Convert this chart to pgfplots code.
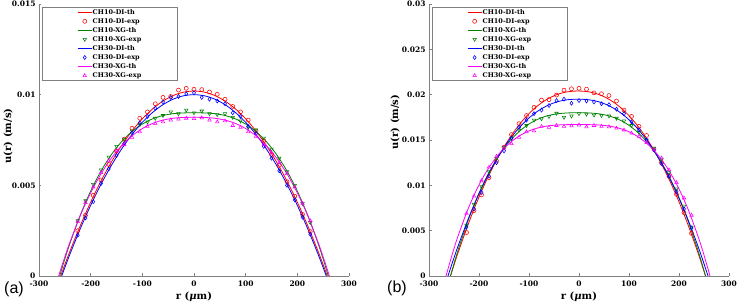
\documentclass[border=0pt]{standalone}
\usepackage{pgfplots}
\pgfplotsset{compat=1.18}
\usepackage{fontspec}
\setmainfont{Liberation Serif}
\newfontfamily\dvs{DejaVu Serif}
\newfontfamily\lsans{Liberation Sans}
\definecolor{colR}{rgb}{1,0,0}
\definecolor{colG}{rgb}{0,0.5,0}
\definecolor{colB}{rgb}{0,0,1}
\definecolor{colM}{rgb}{1,0,1}
\definecolor{axgray}{rgb}{0.5,0.5,0.5}
\pgfplotsset{
  myax/.style={
    scale only axis, height=272pt,
    axis lines*=left,
    axis line style={axgray, line width=0.6pt},
    every tick/.style={axgray, line width=0.5pt},
    major tick length=2.5pt,
    tick align=inside,
    xmin=-300, xmax=300, ymin=0,
    xtick={-300,-200,-100,0,100,200,300},
    xticklabels={-300,-200,-100,0,100,200,300},
    scaled y ticks=false,
    tick label style={font=\dvs\bfseries\fontsize{7.5}{8}\selectfont, black},
    xticklabel style={yshift=-1.5pt},
    label style={font=\dvs\bfseries\fontsize{10}{11}\selectfont},
    xlabel={r (\textit{μ}m)},
    xlabel style={at={(axis description cs:0.5,0)}, anchor=center, yshift=-20.7pt},
    legend style={at={(axis description cs:0.01,0.989)}, anchor=north west,
      draw=axgray, line width=0.5pt, inner xsep=35pt, inner ysep=0.5pt,
      font=\dvs\bfseries\fontsize{6.5}{8}\selectfont, row sep=0pt,
      nodes={inner sep=0.6pt, text height=5.9pt, text depth=1.95pt}},
    legend cell align=left,
    legend image code/.code={\draw[mark repeat=2,mark phase=2,#1] plot coordinates {(0pt,0pt) (7pt,0pt) (14pt,0pt)};},
  },
  th/.style={line width=0.8pt, smooth, no markers},
  ex/.style={only marks, line width=0.55pt, mark size=2pt},
}
\begin{document}
\begin{tikzpicture}[x=1pt,y=1pt]
\path[use as bounding box] (0,0) rectangle (737,302);
% ---------------- (a) ----------------
\begin{axis}[myax, width=310pt, at={(39pt,26pt)}, anchor=south west,
  ymax=0.015, ytick={0,0.005,0.01,0.015}, yticklabels={0,0.005,0.01,0.015},
  ylabel={u(r) (m/s)},
  ylabel style={at={(axis description cs:-0.1,0.515)}, anchor=center}]
\addplot[th, colR] coordinates {(-266,-0.00064) (-258,0) (-250,0.000623) (-240,0.001374) (-220,0.002783) (-200,0.004071) (-180,0.005235) (-160,0.006277) (-140,0.007197) (-120,0.007993) (-100,0.008668) (-80,0.009219) (-60,0.009648) (-40,0.009955) (-20,0.010139) (0,0.0102) (20,0.010139) (40,0.009955) (60,0.009648) (80,0.009219) (100,0.008668) (120,0.007993) (140,0.007197) (160,0.006277) (180,0.005235) (200,0.004071) (220,0.002783) (240,0.001374) (250,0.000623) (258,0) (266,-0.00064)};
\addlegendentry{CH10-DI-th}
\addplot[ex, colR, mark=o] coordinates {(-225,0.00250) (-210,0.00335) (-195,0.00445) (-180,0.00530) (-165,0.00615) (-150,0.00690) (-135,0.00755) (-120,0.00815) (-105,0.00870) (-90,0.00905) (-75,0.00950) (-60,0.00985) (-45,0.00990) (-30,0.01025) (-15,0.01035) (0,0.01030) (15,0.01028) (30,0.01015) (45,0.01002) (60,0.00975) (75,0.00935) (90,0.00905) (105,0.00860) (120,0.00800) (135,0.00745) (150,0.00670) (165,0.00610) (180,0.00520) (195,0.00440) (210,0.00340) (225,0.00245)};
\addlegendentry{CH10-DI-exp}
\addplot[th, colG] coordinates {(-268,-0.0008) (-260,0) (-250,0.000936) (-240,0.001806) (-220,0.003363) (-200,0.004683) (-180,0.005786) (-160,0.006689) (-140,0.007410) (-120,0.007967) (-100,0.008380) (-80,0.008668) (-60,0.008852) (-40,0.008952) (-20,0.008993) (0,0.0090) (20,0.008993) (40,0.008952) (60,0.008852) (80,0.008668) (100,0.008380) (120,0.007967) (140,0.007410) (160,0.006689) (180,0.005786) (200,0.004683) (220,0.003363) (240,0.001806) (250,0.000936) (260,0) (268,-0.0008)};
\addlegendentry{CH10-XG-th}
\addplot[ex, colG, mark=triangle, mark options={rotate=180}] coordinates {(-225,0.00305) (-210,0.00415) (-195,0.00505) (-180,0.00585) (-165,0.00655) (-150,0.00715) (-135,0.00755) (-120,0.00800) (-105,0.00835) (-90,0.00850) (-75,0.00870) (-60,0.00885) (-45,0.00905) (-30,0.00895) (-15,0.00915) (0,0.00900) (15,0.00910) (30,0.00895) (45,0.00890) (60,0.00895) (75,0.00875) (90,0.00855) (105,0.00820) (120,0.00805) (135,0.00760) (150,0.00700) (165,0.00650) (180,0.00575) (195,0.00500) (210,0.00400) (225,0.00295)};
\addlegendentry{CH10-XG-exp}
\addplot[th, colB] coordinates {(-264,-0.000635) (-256,0) (-250,0.000463) (-240,0.001211) (-220,0.002615) (-200,0.003896) (-180,0.005056) (-160,0.006094) (-140,0.007009) (-120,0.007803) (-100,0.008474) (-80,0.009023) (-60,0.009451) (-40,0.009756) (-20,0.009939) (0,0.0100) (20,0.009939) (40,0.009756) (60,0.009451) (80,0.009023) (100,0.008474) (120,0.007803) (140,0.007009) (160,0.006094) (180,0.005056) (200,0.003896) (220,0.002615) (240,0.001211) (250,0.000463) (256,0) (264,-0.000635)};
\addlegendentry{CH30-DI-th}
\addplot[ex, colB, mark=diamond] coordinates {(-225,0.00225) (-210,0.00320) (-195,0.00410) (-180,0.00510) (-165,0.00590) (-150,0.00665) (-135,0.00730) (-120,0.00790) (-105,0.00845) (-90,0.00880) (-75,0.00925) (-60,0.00960) (-45,0.00985) (-30,0.00990) (-15,0.01005) (0,0.01010) (15,0.00985) (30,0.00975) (45,0.00965) (60,0.00950) (75,0.00900) (90,0.00880) (105,0.00825) (120,0.00785) (135,0.00715) (150,0.00650) (165,0.00580) (180,0.00500) (195,0.00420) (210,0.00325) (225,0.00230)};
\addlegendentry{CH30-DI-exp}
\addplot[th, colM] coordinates {(-270,-0.00075) (-262,0) (-250,0.001058) (-240,0.001875) (-220,0.003338) (-200,0.004587) (-180,0.005633) (-160,0.006496) (-140,0.007188) (-120,0.007728) (-100,0.008131) (-80,0.008415) (-60,0.008598) (-40,0.008700) (-20,0.008743) (0,0.00875) (20,0.008743) (40,0.008700) (60,0.008598) (80,0.008415) (100,0.008131) (120,0.007728) (140,0.007188) (160,0.006496) (180,0.005633) (200,0.004587) (220,0.003338) (240,0.001875) (250,0.001058) (262,0) (270,-0.00075)};
\addlegendentry{CH30-XG-th}
\addplot[ex, colM, mark=triangle] coordinates {(-225,0.00300) (-210,0.00405) (-195,0.00490) (-180,0.00570) (-165,0.00635) (-150,0.00690) (-135,0.00725) (-120,0.00765) (-105,0.00795) (-90,0.00825) (-75,0.00840) (-60,0.00850) (-45,0.00860) (-30,0.00865) (-15,0.00870) (0,0.00868) (15,0.00872) (30,0.00860) (45,0.00850) (60,0.00855) (75,0.00830) (90,0.00820) (105,0.00795) (120,0.00770) (135,0.00725) (150,0.00680) (165,0.00625) (180,0.00565) (195,0.00490) (210,0.00400) (225,0.00305)};
\addlegendentry{CH30-XG-exp}
\end{axis}
% ---------------- (b) ----------------
\begin{axis}[myax, width=300pt, at={(429pt,26pt)}, anchor=south west,
  ymax=0.03, ytick={0,0.005,0.01,0.015,0.02,0.025,0.03}, yticklabels={0,0.005,0.01,0.015,0.02,0.025,0.03},
  ylabel={u(r) (m/s)},
  ylabel style={at={(axis description cs:-0.113,0.566)}, anchor=center}]
\addplot[th, colR] coordinates {(-265,-0.00143) (-257,0) (-252,0.000869) (-242,0.002546) (-222,0.005655) (-202,0.008446) (-182,0.010920) (-162,0.013082) (-142,0.014945) (-122,0.016516) (-102,0.017799) (-82,0.018809) (-62,0.019553) (-42,0.020053) (-22,0.020325) (-2,0.0204) (18,0.020325) (38,0.020053) (58,0.019553) (78,0.018809) (98,0.017799) (118,0.016516) (138,0.014945) (158,0.013082) (178,0.010920) (198,0.008446) (218,0.005655) (238,0.002546) (248,0.000869) (253,0) (261,-0.00143)};
\addlegendentry{CH10-DI-th}
\addplot[ex, colR, mark=o] coordinates {(-225,0.00480) (-210,0.00720) (-195,0.00895) (-180,0.01085) (-165,0.01270) (-150,0.01420) (-135,0.01560) (-120,0.01680) (-105,0.01770) (-90,0.01860) (-75,0.01940) (-60,0.01945) (-45,0.01995) (-30,0.02050) (-15,0.02065) (0,0.02070) (15,0.02060) (30,0.02020) (45,0.02010) (60,0.01990) (75,0.01930) (90,0.01830) (105,0.01760) (120,0.01650) (135,0.01550) (150,0.01400) (165,0.01250) (180,0.01100) (195,0.00900) (210,0.00700) (225,0.00470)};
\addlegendentry{CH10-DI-exp}
\addplot[th, colG] coordinates {(-265,-0.00163) (-257,0) (-252,0.000970) (-242,0.002810) (-222,0.006093) (-202,0.008881) (-182,0.011212) (-162,0.013118) (-142,0.014641) (-122,0.015818) (-102,0.016691) (-82,0.017299) (-62,0.017687) (-42,0.017899) (-22,0.017986) (-2,0.0180) (18,0.017986) (38,0.017899) (58,0.017687) (78,0.017299) (98,0.016691) (118,0.015818) (138,0.014641) (158,0.013118) (178,0.011212) (198,0.008881) (218,0.006093) (238,0.002810) (248,0.000970) (253,0) (261,-0.00163)};
\addlegendentry{CH10-XG-th}
\addplot[ex, colG, mark=triangle, mark options={rotate=180}] coordinates {(-225,0.00560) (-210,0.00790) (-195,0.00985) (-180,0.01150) (-165,0.01300) (-150,0.01420) (-135,0.01520) (-120,0.01610) (-105,0.01660) (-90,0.01720) (-75,0.01735) (-60,0.01760) (-45,0.01795) (-30,0.01750) (-15,0.01765) (0,0.01790) (15,0.01785) (30,0.01775) (45,0.01770) (60,0.01765) (75,0.01740) (90,0.01710) (105,0.01660) (120,0.01585) (135,0.01500) (150,0.01410) (165,0.01290) (180,0.01140) (195,0.00960) (210,0.00770) (225,0.00540)};
\addlegendentry{CH10-XG-exp}
\addplot[th, colB] coordinates {(-270,-0.00141) (-262,0) (-252,0.001681) (-242,0.003278) (-222,0.006220) (-202,0.008835) (-182,0.011130) (-162,0.013116) (-142,0.014805) (-122,0.016207) (-102,0.017334) (-82,0.018203) (-62,0.018831) (-42,0.019237) (-22,0.019447) (-2,0.0195) (18,0.019447) (38,0.019237) (58,0.018831) (78,0.018203) (98,0.017334) (118,0.016207) (138,0.014805) (158,0.013116) (178,0.011130) (198,0.008835) (218,0.006220) (238,0.003278) (248,0.001681) (258,0) (266,-0.00141)};
\addlegendentry{CH30-DI-th}
\addplot[ex, colB, mark=diamond] coordinates {(-225,0.00540) (-210,0.00740) (-195,0.00920) (-180,0.01100) (-165,0.01250) (-150,0.01380) (-135,0.01520) (-120,0.01640) (-105,0.01720) (-90,0.01790) (-75,0.01830) (-60,0.01880) (-45,0.01935) (-30,0.01950) (-15,0.01905) (0,0.01935) (15,0.01930) (30,0.01920) (45,0.01900) (60,0.01890) (75,0.01840) (90,0.01790) (105,0.01700) (120,0.01610) (135,0.01500) (150,0.01390) (165,0.01240) (180,0.01100) (195,0.00930) (210,0.00740) (225,0.00530)};
\addlegendentry{CH30-DI-exp}
\addplot[th, colM] coordinates {(-274,-0.00167) (-266,0) (-252,0.002672) (-242,0.004390) (-222,0.007381) (-202,0.009831) (-182,0.011797) (-162,0.013337) (-142,0.014507) (-122,0.015360) (-102,0.015953) (-82,0.016334) (-62,0.016554) (-42,0.016660) (-22,0.016696) (-2,0.0167) (18,0.016696) (38,0.016660) (58,0.016554) (78,0.016334) (98,0.015953) (118,0.015360) (138,0.014507) (158,0.013337) (178,0.011797) (198,0.009831) (218,0.007381) (238,0.004390) (248,0.002672) (262,0) (270,-0.00167)};
\addlegendentry{CH30-XG-th}
\addplot[ex, colM, mark=triangle] coordinates {(-225,0.00690) (-210,0.00880) (-195,0.01050) (-180,0.01200) (-165,0.01320) (-150,0.01410) (-135,0.01460) (-120,0.01530) (-105,0.01590) (-90,0.01600) (-75,0.01650) (-60,0.01640) (-45,0.01660) (-30,0.01650) (-15,0.01655) (0,0.01665) (15,0.01645) (30,0.01660) (45,0.01650) (60,0.01645) (75,0.01630) (90,0.01610) (105,0.01575) (120,0.01540) (135,0.01470) (150,0.01390) (165,0.01300) (180,0.01170) (195,0.01030) (210,0.00860) (225,0.00670)};
\addlegendentry{CH30-XG-exp}
\end{axis}
\node[font=\lsans\fontsize{16}{18}\selectfont, anchor=center] at (14,13) {(a)};
\node[font=\lsans\fontsize{16}{18}\selectfont, anchor=center] at (397,14) {(b)};
\end{tikzpicture}
\end{document}
